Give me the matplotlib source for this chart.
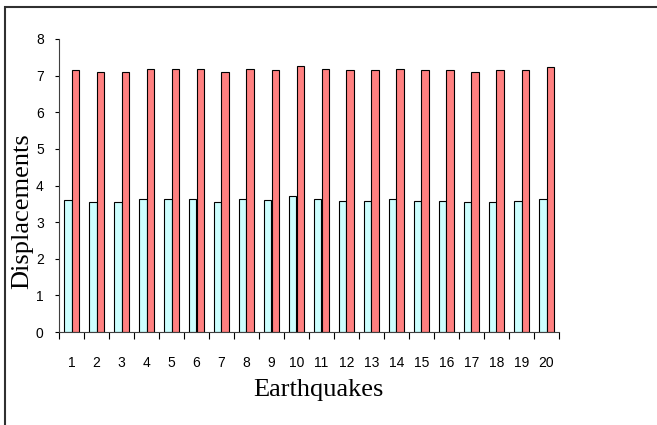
import numpy as np
import matplotlib.pyplot as plt
from matplotlib.patches import Rectangle

quakes = [str(i) for i in range(1, 21)]
disp_low = [3.60, 3.56, 3.56, 3.63, 3.63, 3.63, 3.56, 3.63, 3.60, 3.72,
            3.63, 3.59, 3.59, 3.64, 3.59, 3.59, 3.55, 3.55, 3.59, 3.64]
disp_high = [7.14, 7.10, 7.10, 7.19, 7.19, 7.19, 7.10, 7.19, 7.14, 7.27,
             7.19, 7.14, 7.14, 7.19, 7.14, 7.14, 7.10, 7.14, 7.14, 7.23]

tick_font = ['Liberation Sans', 'DejaVu Sans']
label_font = ['Liberation Serif', 'DejaVu Serif']

fig = plt.figure(figsize=(6.57, 4.25), dpi=100)
ax = fig.add_axes([59/657, 93/425, 500/657, 293/425])

x = np.arange(len(quakes))
w = 0.3
ax.bar(x - w/2, disp_low, w, color='#ccffff', edgecolor='black', linewidth=0.8)
ax.bar(x + w/2, disp_high, w, color='#ff8080', edgecolor='black', linewidth=0.8)

ax.set_xlim(-0.5, len(quakes) - 0.5)
ax.set_ylim(0, 8)
ax.set_yticks(range(0, 9))
ax.set_yticklabels([str(i) for i in range(0, 9)], family=tick_font, fontsize=10)
ax.set_xticks(x)
ax.set_xticklabels(quakes, family=tick_font, fontsize=10)
ax.set_xticks(np.arange(-0.5, len(quakes)), minor=True)
ax.tick_params(axis='x', which='major', length=0, pad=17)
ax.tick_params(axis='x', which='minor', length=5, width=0.8)
ax.tick_params(axis='y', length=3, width=0.8, pad=8)

for s in ['top', 'right']:
    ax.spines[s].set_visible(False)
for s in ['left', 'bottom']:
    ax.spines[s].set_linewidth(0.8)
    ax.spines[s].set_color('#404040')

ax.set_xlabel("Earthquakes", family=label_font, fontsize=19)
ax.set_ylabel("Displacements", family=label_font, fontsize=19)
ax.xaxis.set_label_coords(0.519, -0.162)
ax.yaxis.set_label_coords(-0.052, 0.413)

# outer frame (only top and left edges fall inside the image)
fig.patches.append(Rectangle((5/657, -0.1), 1.2, (418/425) + 0.1,
                             transform=fig.transFigure, fill=False,
                             edgecolor='#303030', linewidth=1.5))

fig.savefig("out.png", dpi=100)
